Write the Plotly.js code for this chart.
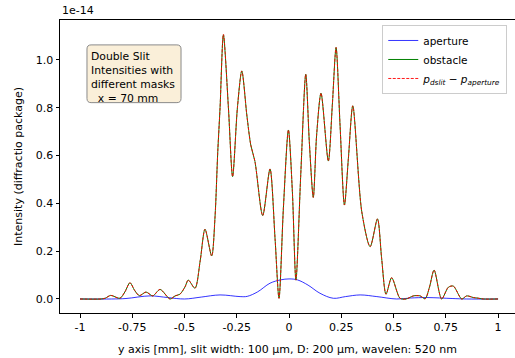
<!DOCTYPE html>
<html>
<head>
<meta charset="utf-8">
<script src="https://cdn.plot.ly/plotly-3.0.1.min.js"></script>
<style>html,body{margin:0;padding:0;background:#fff;}#chart{width:515px;height:358px;}</style>
</head>
<body>
<div id="chart"></div>
<script>
// Positions along the screen (mm) and intensities (units of 1e-14)
const yPos = [-1.0, -0.9, -0.88, -0.853, -0.809, -0.785, -0.761, -0.738, -0.716, -0.684, -0.652, -0.617,
  -0.569, -0.545, -0.522, -0.498, -0.482, -0.45, -0.425, -0.402, -0.37, -0.354, -0.341, -0.33, -0.314,
  -0.29, -0.27, -0.247, -0.226, -0.202, -0.183, -0.163, -0.126, -0.091, -0.067, -0.048, -0.027, -0.003,
  0.016, 0.033, 0.056, 0.080, 0.097, 0.116, 0.132, 0.153, 0.188, 0.207, 0.225, 0.244, 0.265, 0.284,
  0.305, 0.348, 0.388, 0.423, 0.443, 0.464, 0.491, 0.531, 0.56, 0.595, 0.627, 0.651, 0.672, 0.694,
  0.73, 0.762, 0.786, 0.826, 0.85, 0.882, 0.90, 0.93, 1.0];
const obstacle = [0, 0, 0.003, 0.015, 0.003, 0.03, 0.068, 0.035, 0.014, 0.029, 0.013, 0.04,
  0.0, 0.013, 0.02, 0.05, 0.079, 0.045, 0.16, 0.292, 0.18, 0.344, 0.616, 0.80, 1.105,
  0.80, 0.512, 0.80, 0.954, 0.77, 0.644, 0.575, 0.349, 0.544, 0.254, 0.003, 0.38, 0.707,
  0.449, 0.079, 0.519, 0.940, 0.658, 0.425, 0.686, 0.861, 0.577, 0.81, 1.052, 0.728, 0.393, 0.589,
  0.808, 0.365, 0.219, 0.335, 0.17, 0.020, 0.089, 0.003, 0.0, 0.013, 0.013, 0.001, 0.05, 0.121,
  0.0, 0.049, 0.054, 0.0, 0.013, 0.006, 0.004, 0.0, 0];
const dslitMinusAperture = [0, 0, 0.003, 0.015, 0.003, 0.03, 0.068, 0.035, 0.014, 0.029, 0.013, 0.04,
  0.0, 0.013, 0.02, 0.05, 0.079, 0.045, 0.16, 0.292, 0.18, 0.344, 0.616, 0.80, 1.108,
  0.80, 0.512, 0.80, 0.954, 0.77, 0.644, 0.575, 0.349, 0.544, 0.254, 0.003, 0.38, 0.707,
  0.449, 0.079, 0.519, 0.940, 0.658, 0.425, 0.686, 0.861, 0.577, 0.81, 1.052, 0.728, 0.393, 0.589,
  0.808, 0.365, 0.219, 0.335, 0.17, 0.020, 0.089, 0.003, 0.0, 0.013, 0.013, 0.001, 0.05, 0.121,
  0.0, 0.049, 0.054, 0.0, 0.013, 0.006, 0.004, 0.0, 0];
const apPos = [-1.0, -0.85, -0.78, -0.665, -0.58, -0.5, -0.42, -0.33, -0.234, -0.2, -0.15, -0.091,
  -0.04, 0.0, 0.04, 0.091, 0.148, 0.212, 0.27, 0.34, 0.42, 0.515, 0.58, 0.66, 0.78, 0.85, 1.0];
const aperture = [0, 0, 0.002, 0.013, 0.006, 0.0, 0.008, 0.017, 0.010, 0.011, 0.030, 0.066,
  0.080, 0.084, 0.080, 0.058, 0.024, 0.003, 0.010, 0.017, 0.010, 0.0, 0.004, 0.006, 0.002, 0, 0];

const xTickVals = [-1, -0.75, -0.5, -0.25, 0, 0.25, 0.5, 0.75, 1];
const xTickText = ['-1', '-0.75', '-0.5', '-0.25', '0', '0.25', '0.5', '0.75', '1'];
const yTickVals = [0, 0.2, 0.4, 0.6, 0.8, 1.0];

const font = 'DejaVu Sans, sans-serif';
const traces = [
  {x: apPos, y: aperture, name: 'aperture', mode: 'lines',
   line: {color: '#0000ff', width: 0.8, shape: 'spline', smoothing: 1}},
  {x: yPos, y: obstacle, name: 'obstacle', mode: 'lines',
   line: {color: '#008000', width: 1, shape: 'spline', smoothing: 0.8}},
  {x: yPos, y: dslitMinusAperture, name: '<i>p</i><sub><i>dslit</i></sub> − <i>p</i><sub><i>aperture</i></sub>', mode: 'lines',
   opacity: 0.9,
   line: {color: '#ff0000', width: 1, dash: '3px,1.5px', shape: 'spline', smoothing: 0.8}}
];

// rounded box behind the text annotation (paper coordinates)
function roundedBox(x0, y0, x1, y1, rx, ry) {
  return `M ${x0 + rx} ${y0} L ${x1 - rx} ${y0} Q ${x1} ${y0} ${x1} ${y0 + ry} L ${x1} ${y1 - ry} Q ${x1} ${y1} ${x1 - rx} ${y1} ` +
         `L ${x0 + rx} ${y1} Q ${x0} ${y1} ${x0} ${y1 - ry} L ${x0} ${y0 + ry} Q ${x0} ${y0} ${x0 + rx} ${y0} Z`;
}

const layout = {
  width: 515, height: 358,
  margin: {l: 60, r: 0, t: 20, b: 45},
  paper_bgcolor: '#fff', plot_bgcolor: '#fff',
  font: {family: font, size: 11, color: '#000'},
  showlegend: true,
  legend: {x: 0.983, xanchor: 'right', y: 0.983, yanchor: 'top',
    bgcolor: 'rgba(255,255,255,0.8)', bordercolor: '#cccccc', borderwidth: 1,
    font: {family: font, size: 10.5}, tracegroupgap: 0, itemwidth: 30},
  xaxis: {range: [-1.0957, 1.081], tickvals: xTickVals, ticktext: xTickText,
    showgrid: false, zeroline: false, showline: true, linecolor: '#000', linewidth: 1, mirror: true,
    ticks: 'outside', ticklen: 3.5, tickcolor: '#000', tickfont: {family: font, size: 11},
    title: {text: 'y axis [mm], slit width: 100 µm, D: 200 µm, wavelen: 520 nm', font: {family: font, size: 11}, standoff: 12}},
  yaxis: {range: [-0.0586, 1.167], tickvals: yTickVals, tickformat: '.1f',
    showgrid: false, zeroline: false, showline: true, linecolor: '#000', linewidth: 1,
    ticks: 'outside', ticklen: 3.5, tickcolor: '#000', tickfont: {family: font, size: 11},
    title: {text: 'Intensity (diffractio package)', font: {family: font, size: 11}, standoff: 10}},
  shapes: [
    {type: 'path', xref: 'paper', yref: 'paper', layer: 'below',
     path: roundedBox(0.0593, 0.718, 0.266, 0.915, 0.009, 0.014),
     fillcolor: '#faefd9', line: {color: '#8a8a8a', width: 1}}
  ],
  annotations: [
    {xref: 'paper', yref: 'paper', x: 0.064, y: 0.905, xanchor: 'left', yanchor: 'top', align: 'left',
     text: 'Double Slit<br>Intensities with<br>different masks<br>&nbsp;&nbsp;x = 70 mm',
     showarrow: false, font: {family: font, size: 10.8, color: '#000'}},
    {xref: 'paper', yref: 'paper', x: 0, y: 1, xanchor: 'left', yanchor: 'bottom', yshift: 1,
     text: '1e-14', showarrow: false, font: {family: font, size: 11}}
  ]
};
Plotly.newPlot('chart', traces, layout, {displayModeBar: false, staticPlot: true});
</script>
</body>
</html>
